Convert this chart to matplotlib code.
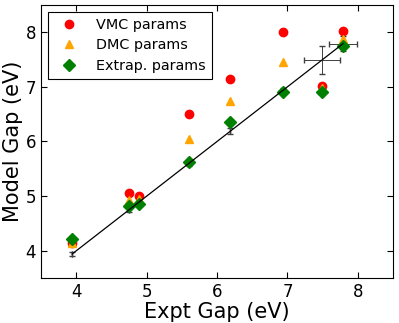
import numpy as np
import matplotlib.pyplot as plt

# experimental gaps (eV)
expt = [3.94, 4.75, 4.89, 5.60, 6.19, 6.94, 7.49, 7.79]
expt_xerr = [0.0, 0.0, 0.0, 0.0, 0.0, 0.0, 0.25, 0.2]
expt_yerr = [0.04, 0.04, 0.04, 0.04, 0.06, 0.04, 0.25, 0.14]

# model gaps (eV)
vmc = [4.14, 5.05, 5.00, 6.50, 7.14, 8.01, 7.02, 8.03]
dmc = [4.15, 4.92, 4.95, 6.04, 6.74, 7.45, 6.98, 7.88]
extrap = [4.21, 4.82, 4.86, 5.62, 6.35, 6.90, 6.90, 7.74]

fig = plt.figure(figsize=(3.99, 3.23), dpi=100)
ax = fig.add_axes([0.103, 0.139, 0.882, 0.846])

ax.errorbar(expt, expt, xerr=expt_xerr, yerr=expt_yerr, color='k', lw=0.9,
            elinewidth=0.7, capsize=2, ecolor='0.25')
ax.plot(expt, vmc, 'o', color='red', mec='red', ms=6, label='VMC params')
ax.plot(expt, dmc, '^', color='orange', mec='orange', ms=6, label='DMC params')
ax.plot(expt, extrap, 'D', color='green', mec='green', ms=6, label='Extrap. params')

ax.set_xlim(3.5, 8.5)
ax.set_ylim(3.5, 8.5)
ax.set_xticks([4, 5, 6, 7, 8])
ax.set_yticks([4, 5, 6, 7, 8])
ax.tick_params(direction='in', top=True, right=True, labelsize=12, length=4)
ax.set_xlabel('Expt Gap (eV)', fontsize=15, labelpad=1)
ax.set_ylabel('Model Gap (eV)', fontsize=15, labelpad=2)

leg = ax.legend(loc='upper left', numpoints=1, fontsize=10.4, fancybox=False,
                framealpha=1, edgecolor='k', borderaxespad=0.5, handletextpad=0.9,
                labelspacing=0.45)
leg.get_frame().set_linewidth(0.8)

fig.savefig('out.png', dpi=100)
